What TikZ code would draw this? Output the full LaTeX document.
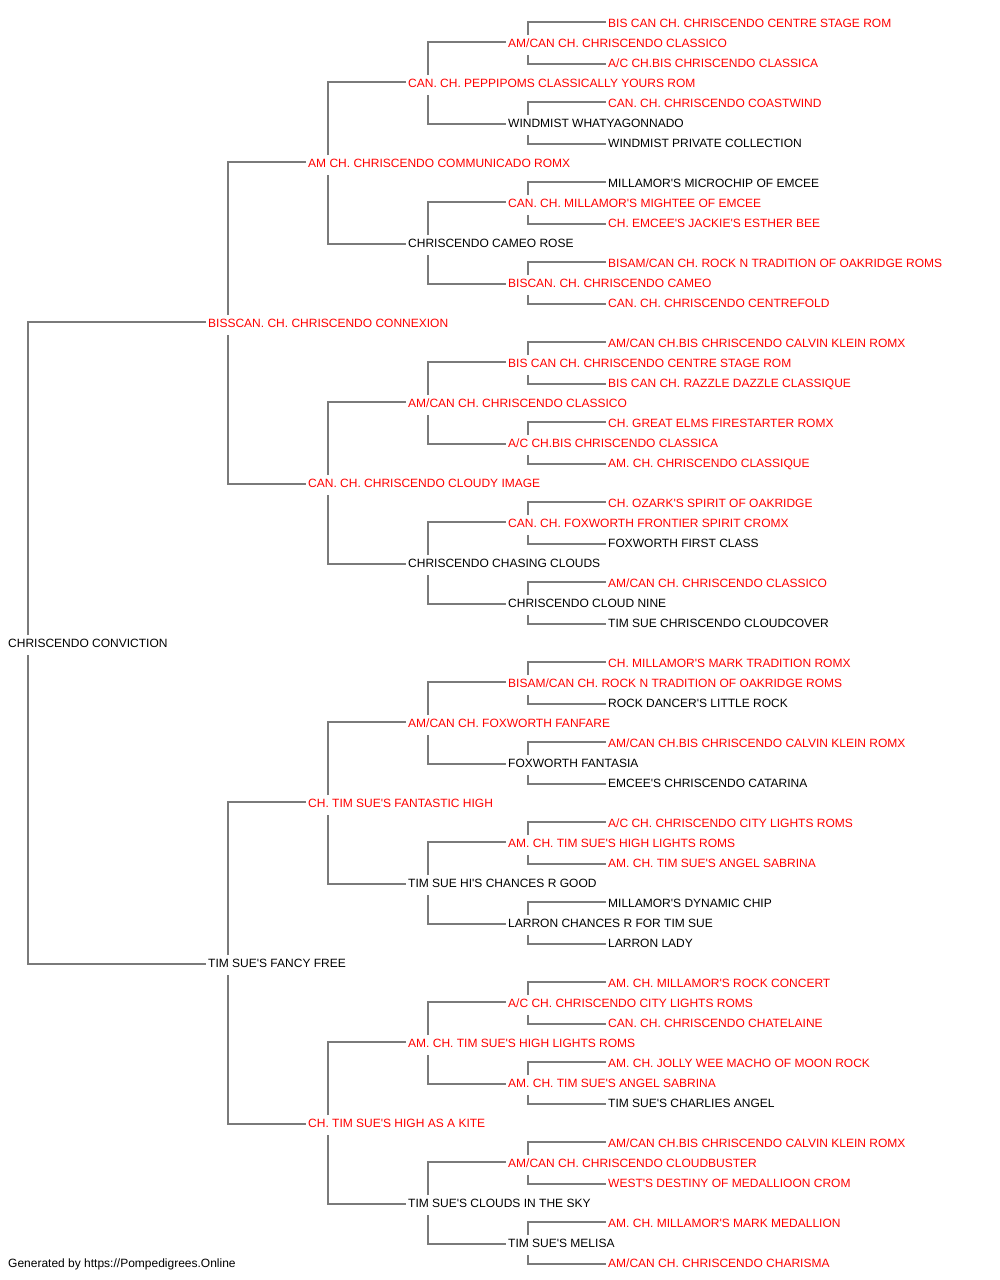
\documentclass[tikz,border=0pt]{standalone}
\usepackage{fontspec}
\newfontfamily\pedfont{Liberation Sans}
\usetikzlibrary{calc}
\definecolor{pedred}{HTML}{FF0000}
\definecolor{pedline}{HTML}{7A7A7A}
\tikzset{
  pn/.style={anchor=west, inner sep=0pt, text height=9.6pt, text depth=0pt, font=\pedfont\fontsize{12}{14}\selectfont, text=black},
  champ/.style={pn, text=pedred},
  conn/.style={draw=pedline, line width=1.9pt}
}
\begin{document}
\begin{tikzpicture}[x=1pt,y=-1pt]
\useasboundingbox (0,0) rectangle (1000,1280);
% generation 0
\node[pn] (a0) at (8,643) {CHRISCENDO CONVICTION};
% generation 1
\node[champ] (b0) at (208,323) {BISSCAN. CH. CHRISCENDO CONNEXION};
\node[pn] (b1) at (208,963) {TIM SUE'S FANCY FREE};
% generation 2
\node[champ] (c0) at (308,163) {AM CH. CHRISCENDO COMMUNICADO ROMX};
\node[champ] (c1) at (308,483) {CAN. CH. CHRISCENDO CLOUDY IMAGE};
\node[champ] (c2) at (308,803) {CH. TIM SUE'S FANTASTIC HIGH};
\node[champ] (c3) at (308,1123) {CH. TIM SUE'S HIGH AS A KITE};
% generation 3
\node[champ] (d0) at (408,83) {CAN. CH. PEPPIPOMS CLASSICALLY YOURS ROM};
\node[pn] (d1) at (408,243) {CHRISCENDO CAMEO ROSE};
\node[champ] (d2) at (408,403) {AM/CAN CH. CHRISCENDO CLASSICO};
\node[pn] (d3) at (408,563) {CHRISCENDO CHASING CLOUDS};
\node[champ] (d4) at (408,723) {AM/CAN CH. FOXWORTH FANFARE};
\node[pn] (d5) at (408,883) {TIM SUE HI'S CHANCES R GOOD};
\node[champ] (d6) at (408,1043) {AM. CH. TIM SUE'S HIGH LIGHTS ROMS};
\node[pn] (d7) at (408,1203) {TIM SUE'S CLOUDS IN THE SKY};
% generation 4
\node[champ] (e0) at (508,43) {AM/CAN CH. CHRISCENDO CLASSICO};
\node[pn] (e1) at (508,123) {WINDMIST WHATYAGONNADO};
\node[champ] (e2) at (508,203) {CAN. CH. MILLAMOR'S MIGHTEE OF EMCEE};
\node[champ] (e3) at (508,283) {BISCAN. CH. CHRISCENDO CAMEO};
\node[champ] (e4) at (508,363) {BIS CAN CH. CHRISCENDO CENTRE STAGE ROM};
\node[champ] (e5) at (508,443) {A/C CH.BIS CHRISCENDO CLASSICA};
\node[champ] (e6) at (508,523) {CAN. CH. FOXWORTH FRONTIER SPIRIT CROMX};
\node[pn] (e7) at (508,603) {CHRISCENDO CLOUD NINE};
\node[champ] (e8) at (508,683) {BISAM/CAN CH. ROCK N TRADITION OF OAKRIDGE ROMS};
\node[pn] (e9) at (508,763) {FOXWORTH FANTASIA};
\node[champ] (e10) at (508,843) {AM. CH. TIM SUE'S HIGH LIGHTS ROMS};
\node[pn] (e11) at (508,923) {LARRON CHANCES R FOR TIM SUE};
\node[champ] (e12) at (508,1003) {A/C CH. CHRISCENDO CITY LIGHTS ROMS};
\node[champ] (e13) at (508,1083) {AM. CH. TIM SUE'S ANGEL SABRINA};
\node[champ] (e14) at (508,1163) {AM/CAN CH. CHRISCENDO CLOUDBUSTER};
\node[pn] (e15) at (508,1243) {TIM SUE'S MELISA};
% generation 5
\node[champ] (f0) at (608,23) {BIS CAN CH. CHRISCENDO CENTRE STAGE ROM};
\node[champ] (f1) at (608,63) {A/C CH.BIS CHRISCENDO CLASSICA};
\node[champ] (f2) at (608,103) {CAN. CH. CHRISCENDO COASTWIND};
\node[pn] (f3) at (608,143) {WINDMIST PRIVATE COLLECTION};
\node[pn] (f4) at (608,183) {MILLAMOR'S MICROCHIP OF EMCEE};
\node[champ] (f5) at (608,223) {CH. EMCEE'S JACKIE'S ESTHER BEE};
\node[champ] (f6) at (608,263) {BISAM/CAN CH. ROCK N TRADITION OF OAKRIDGE ROMS};
\node[champ] (f7) at (608,303) {CAN. CH. CHRISCENDO CENTREFOLD};
\node[champ] (f8) at (608,343) {AM/CAN CH.BIS CHRISCENDO CALVIN KLEIN ROMX};
\node[champ] (f9) at (608,383) {BIS CAN CH. RAZZLE DAZZLE CLASSIQUE};
\node[champ] (f10) at (608,423) {CH. GREAT ELMS FIRESTARTER ROMX};
\node[champ] (f11) at (608,463) {AM. CH. CHRISCENDO CLASSIQUE};
\node[champ] (f12) at (608,503) {CH. OZARK'S SPIRIT OF OAKRIDGE};
\node[pn] (f13) at (608,543) {FOXWORTH FIRST CLASS};
\node[champ] (f14) at (608,583) {AM/CAN CH. CHRISCENDO CLASSICO};
\node[pn] (f15) at (608,623) {TIM SUE CHRISCENDO CLOUDCOVER};
\node[champ] (f16) at (608,663) {CH. MILLAMOR'S MARK TRADITION ROMX};
\node[pn] (f17) at (608,703) {ROCK DANCER'S LITTLE ROCK};
\node[champ] (f18) at (608,743) {AM/CAN CH.BIS CHRISCENDO CALVIN KLEIN ROMX};
\node[pn] (f19) at (608,783) {EMCEE'S CHRISCENDO CATARINA};
\node[champ] (f20) at (608,823) {A/C CH. CHRISCENDO CITY LIGHTS ROMS};
\node[champ] (f21) at (608,863) {AM. CH. TIM SUE'S ANGEL SABRINA};
\node[pn] (f22) at (608,903) {MILLAMOR'S DYNAMIC CHIP};
\node[pn] (f23) at (608,943) {LARRON LADY};
\node[champ] (f24) at (608,983) {AM. CH. MILLAMOR'S ROCK CONCERT};
\node[champ] (f25) at (608,1023) {CAN. CH. CHRISCENDO CHATELAINE};
\node[champ] (f26) at (608,1063) {AM. CH. JOLLY WEE MACHO OF MOON ROCK};
\node[pn] (f27) at (608,1103) {TIM SUE'S CHARLIES ANGEL};
\node[champ] (f28) at (608,1143) {AM/CAN CH.BIS CHRISCENDO CALVIN KLEIN ROMX};
\node[champ] (f29) at (608,1183) {WEST'S DESTINY OF MEDALLIOON CROM};
\node[champ] (f30) at (608,1223) {AM. CH. MILLAMOR'S MARK MEDALLION};
\node[champ] (f31) at (608,1263) {AM/CAN CH. CHRISCENDO CHARISMA};
% footer
\node[pn] (foot) at (8,1263) {Generated by https://Pompedigrees.Online};
% connectors
\foreach \p/\c/\n in {a/b/0, b/c/1, c/d/3, d/e/7, e/f/15}{
  \foreach \i in {0,...,\n}{
    \pgfmathtruncatemacro{\ca}{2*\i}
    \pgfmathtruncatemacro{\cb}{2*\i+1}
    \draw[conn] ($(\p\i.west)+(20,-8)$) |- ($(\c\ca.west)+(-2,-1)$);
    \draw[conn] ($(\p\i.west)+(20,12)$) |- ($(\c\cb.west)+(-2,1)$);
  }
}
\end{tikzpicture}
\end{document}
